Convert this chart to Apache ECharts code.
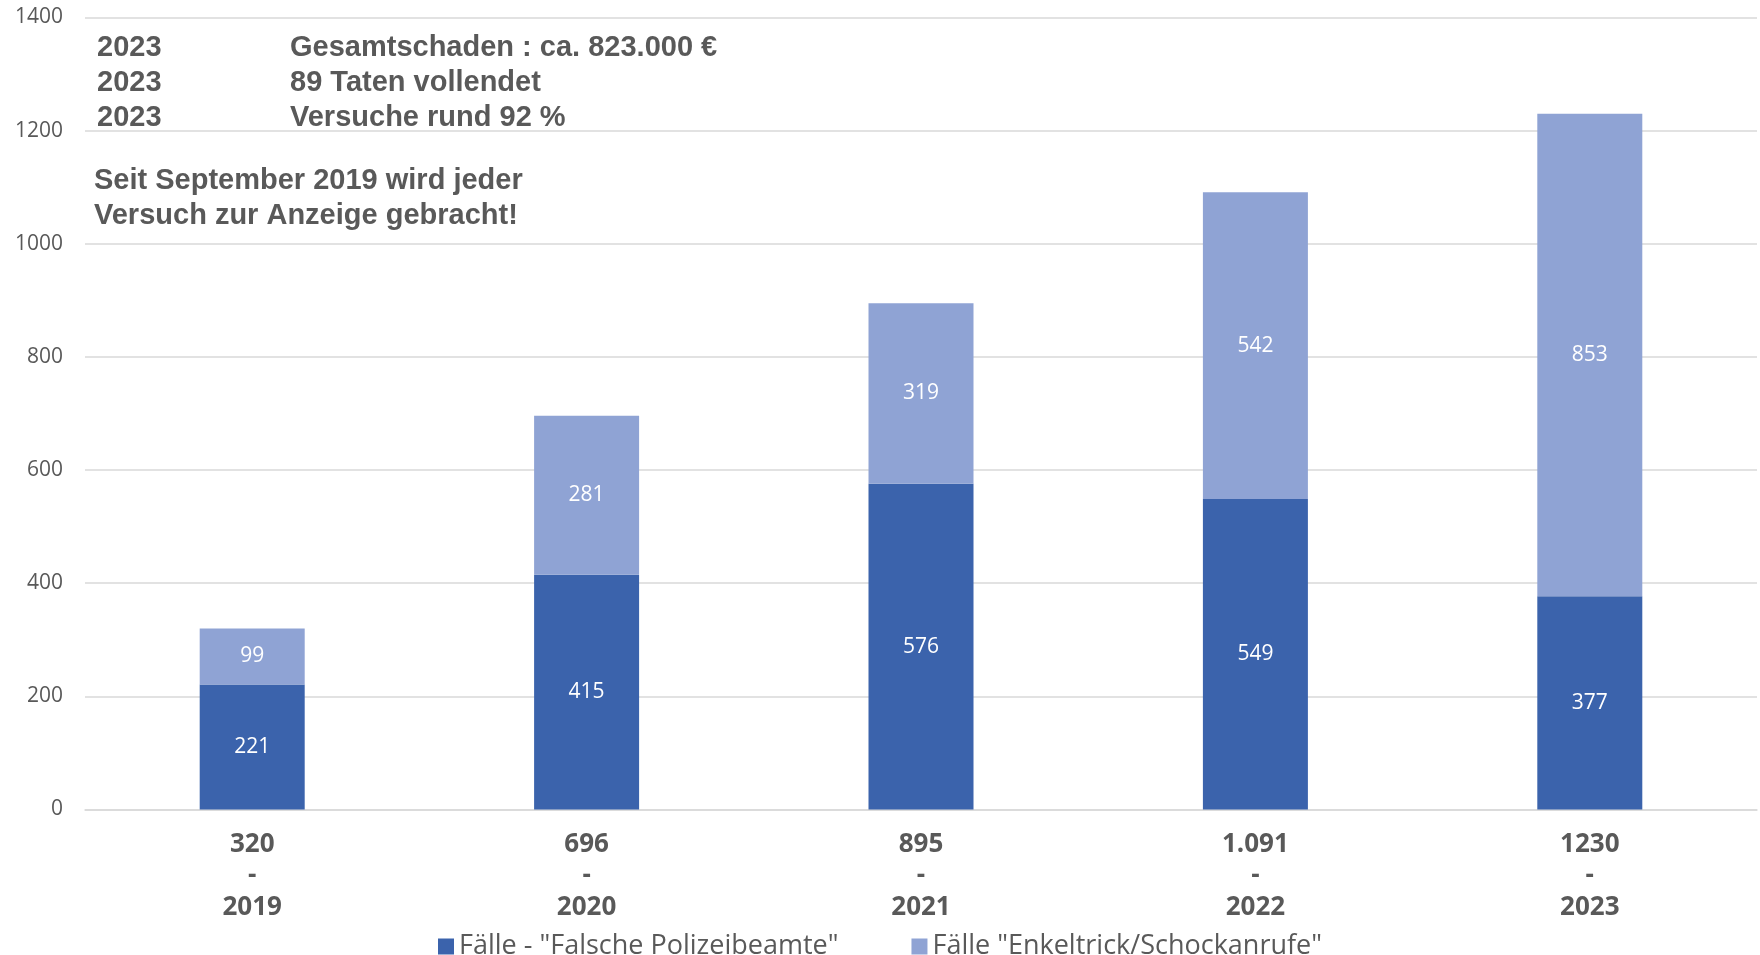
<!DOCTYPE html>
<html>
<head>
<meta charset="utf-8">
<script src="https://cdn.jsdelivr.net/npm/echarts@6/dist/echarts.min.js"></script>
<style>
  html, body { margin: 0; padding: 0; background: #fff; }
  #chart { width: 1760px; height: 955px; }
</style>
</head>
<body>
<div id="chart"></div>
<script>
// Werte aus dem Diagramm
var years = ['2019', '2020', '2021', '2022', '2023'];
var totals = ['320', '696', '895', '1.091', '1230'];
var polizeibeamte = [221, 415, 576, 549, 377];
var enkeltrick = [99, 281, 319, 542, 853];
var yTicks = { min: 0, max: 1400, interval: 200 };

var seriesNames = ['Fälle - "Falsche Polizeibeamte"', 'Fälle "Enkeltrick/Schockanrufe"'];
var noteYears = ['2023', '2023', '2023'];
var noteTexts = ['Gesamtschaden : ca. 823.000 €', '89 Taten vollendet', 'Versuche rund 92 %'];
var hinweis = ['Seit September 2019 wird jeder', 'Versuch zur Anzeige gebracht!'];

var grey = '#595959';
var categories = [];
for (var i = 0; i < years.length; i++) {
    categories.push(totals[i] + '\n-\n' + years[i]);
}

var noteStyle = {
    fill: grey,
    font: 'bold 29px "Liberation Sans", Arial, sans-serif'
};

var graphics = [];
for (var i = 0; i < noteYears.length; i++) {
    graphics.push({
        type: 'text', left: 97, top: 33 + i * 35,
        style: Object.assign({ text: noteYears[i] }, noteStyle)
    });
    graphics.push({
        type: 'text', left: 290, top: 33 + i * 35,
        style: Object.assign({ text: noteTexts[i] }, noteStyle)
    });
}
graphics.push({
    type: 'text', left: 94, top: 163,
    style: Object.assign({ text: hinweis.join('\n'), lineHeight: 35 }, noteStyle)
});

var myChart = echarts.init(document.getElementById('chart'));

var labelStyle = {
    show: true,
    position: 'inside',
    color: '#fff',
    fontSize: 21,
    fontFamily: '"Open Sans", sans-serif'
};

var option = {
    animation: false,
    textStyle: { fontFamily: '"Open Sans", sans-serif' },
    grid: { left: 85, right: 3, top: 17.5, bottom: 145.5 },
    legend: {
        data: seriesNames,
        left: 'center',
        top: 928,
        itemWidth: 16,
        itemHeight: 16,
        itemGap: 73,
        icon: 'rect',
        textStyle: { fontSize: 27, color: grey, fontFamily: '"Open Sans", sans-serif' }
    },
    xAxis: {
        type: 'category',
        data: categories,
        axisTick: { show: false },
        axisLine: { lineStyle: { color: '#d9d9d9', width: 1.5 } },
        axisLabel: {
            margin: 19,
            fontSize: 26,
            fontWeight: 'bold',
            lineHeight: 31.5,
            color: grey,
            fontFamily: '"Open Sans", sans-serif'
        }
    },
    yAxis: {
        type: 'value',
        min: yTicks.min,
        max: yTicks.max,
        interval: yTicks.interval,
        axisLine: { show: false },
        axisTick: { show: false },
        splitLine: { lineStyle: { color: '#d9d9d9', width: 1.5 } },
        axisLabel: {
            margin: 22,
            fontSize: 21,
            color: grey,
            formatter: function (v) { return String(v); }
        }
    },
    series: [{
        name: seriesNames[0],
        type: 'bar',
        stack: 'faelle',
        barWidth: 105,
        data: polizeibeamte,
        itemStyle: { color: '#3b63ac' },
        label: labelStyle
    }, {
        name: seriesNames[1],
        type: 'bar',
        stack: 'faelle',
        barWidth: 105,
        data: enkeltrick,
        itemStyle: { color: '#8fa3d4' },
        label: labelStyle
    }],
    graphic: graphics
};

myChart.setOption(option);
</script>
</body>
</html>
